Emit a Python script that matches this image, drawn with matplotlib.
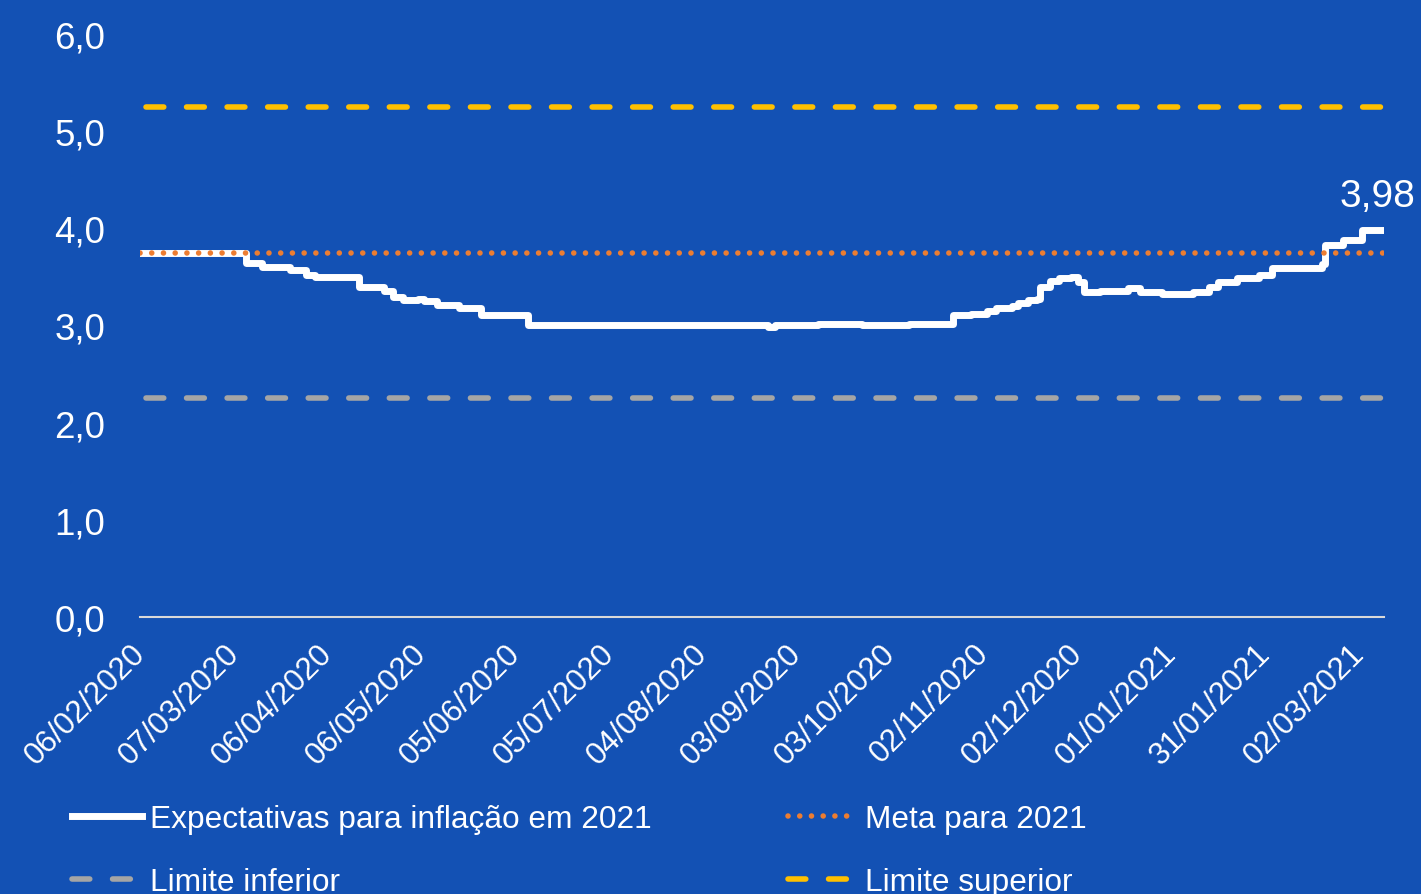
import matplotlib
matplotlib.use('Agg')
from matplotlib import pyplot as plt
import matplotlib.dates as mdates
import matplotlib.transforms as mtransforms
import pandas as pd

plt.rcParams['font.family'] = ['Liberation Sans', 'DejaVu Sans']

# pontos de mudança da expectativa (Focus)
datas = ['2020-02-06', '2020-03-11', '2020-03-16', '2020-03-25', '2020-03-30',
         '2020-04-02', '2020-04-16', '2020-04-24', '2020-04-27', '2020-04-30',
         '2020-05-05', '2020-05-07', '2020-05-11', '2020-05-18', '2020-05-25',
         '2020-06-09', '2020-08-25', '2020-08-27', '2020-09-10', '2020-09-24',
         '2020-10-09', '2020-10-23', '2020-10-29', '2020-11-03', '2020-11-06',
         '2020-11-11', '2020-11-13', '2020-11-16', '2020-11-19', '2020-11-20',
         '2020-11-23', '2020-11-26', '2020-11-30', '2020-12-02', '2020-12-04',
         '2020-12-09', '2020-12-18', '2020-12-22', '2020-12-29', '2021-01-08',
         '2021-01-13', '2021-01-16', '2021-01-22', '2021-01-29', '2021-02-02',
         '2021-02-18', '2021-02-19', '2021-02-25', '2021-03-03', '2021-03-10']
expectativa = [3.75, 3.64, 3.60, 3.57, 3.52,
               3.50, 3.40, 3.35, 3.29, 3.26,
               3.27, 3.25, 3.21, 3.18, 3.11,
               3.00, 2.98, 3.00, 3.01, 3.00,
               3.02, 3.11, 3.12, 3.15, 3.18,
               3.20, 3.23, 3.26, 3.27, 3.40,
               3.46, 3.49, 3.50, 3.45, 3.34,
               3.35, 3.39, 3.34, 3.32, 3.34,
               3.40, 3.45, 3.49, 3.52, 3.59,
               3.63, 3.83, 3.88, 3.98, 3.98]

meta = 3.75
limite_inf = 2.25
limite_sup = 5.25
ultimo_valor = '3,98'

inicio = pd.Timestamp('2020-02-06')
fim = pd.Timestamp('2021-03-10')
ticks = pd.date_range(inicio, periods=14, freq='30D')
yticks = [0, 1, 2, 3, 4, 5, 6]

azul = '#1351B4'
x = pd.to_datetime(datas)
ini_lim = inicio + pd.Timedelta(days=2)

fig = plt.figure(figsize=(14.21, 8.95), dpi=100, facecolor=azul)
ax = fig.add_axes([0.0985, 0.3095, 0.8755, 0.6515])
ax.set_facecolor(azul)

ax.step(x, expectativa, where='post', color='white', lw=5, solid_joinstyle='round',
        label='Expectativas para inflação em 2021', zorder=3)
ax.plot([ini_lim, fim], [limite_inf] * 2, color='#A5A5A5', lw=4, dashes=(3.2, 4.1),
        dash_capstyle='round', label='Limite inferior', zorder=2)
ax.plot([inicio, fim], [meta] * 2, color='#ED7D31', lw=4, dashes=(0.01, 2.1),
        dash_capstyle='round', label='Meta para 2021', zorder=4)
ax.plot([ini_lim, fim], [limite_sup] * 2, color='#FFC000', lw=4, dashes=(3.2, 4.1),
        dash_capstyle='round', label='Limite superior', zorder=2)

ax.annotate(ultimo_valor, (x[-1], expectativa[-1]), xytext=(-5, 12),
            textcoords='offset points', ha='center', va='bottom',
            color='white', fontsize=28)

ax.set_xlim(inicio, fim)
ax.set_ylim(0, 6)
ax.set_xticks(ticks)
ax.xaxis.set_major_formatter(mdates.DateFormatter('%d/%m/%Y'))
ax.set_yticks(yticks)
ax.set_yticklabels([f'{v:.1f}'.replace('.', ',') for v in yticks])

ax.tick_params(axis='y', length=0, pad=25, labelsize=26.5, labelcolor='white')
ax.tick_params(axis='x', length=0, pad=8, labelsize=22.5, labelcolor='white')
desloc = mtransforms.ScaledTranslation(-0.10, -0.10, fig.dpi_scale_trans)
for lbl in ax.get_xticklabels():
    lbl.set_rotation(45)
    lbl.set_ha('right')
    lbl.set_rotation_mode('anchor')
    lbl.set_transform(lbl.get_transform() + desloc)

for s in ['top', 'right', 'left']:
    ax.spines[s].set_visible(False)
ax.spines['bottom'].set_color('#D9D9D9')
ax.spines['bottom'].set_linewidth(1.5)

h, l = ax.get_legend_handles_labels()
fig.legend(h, l, ncol=2, loc='upper left', bbox_to_anchor=(0.042, 0.115),
           frameon=False, fontsize=22.8, labelcolor='white', handlelength=2.2,
           handletextpad=0.25, columnspacing=4.3, labelspacing=1.05,
           borderaxespad=0)

fig.savefig('out.png', dpi=100, facecolor=azul)
